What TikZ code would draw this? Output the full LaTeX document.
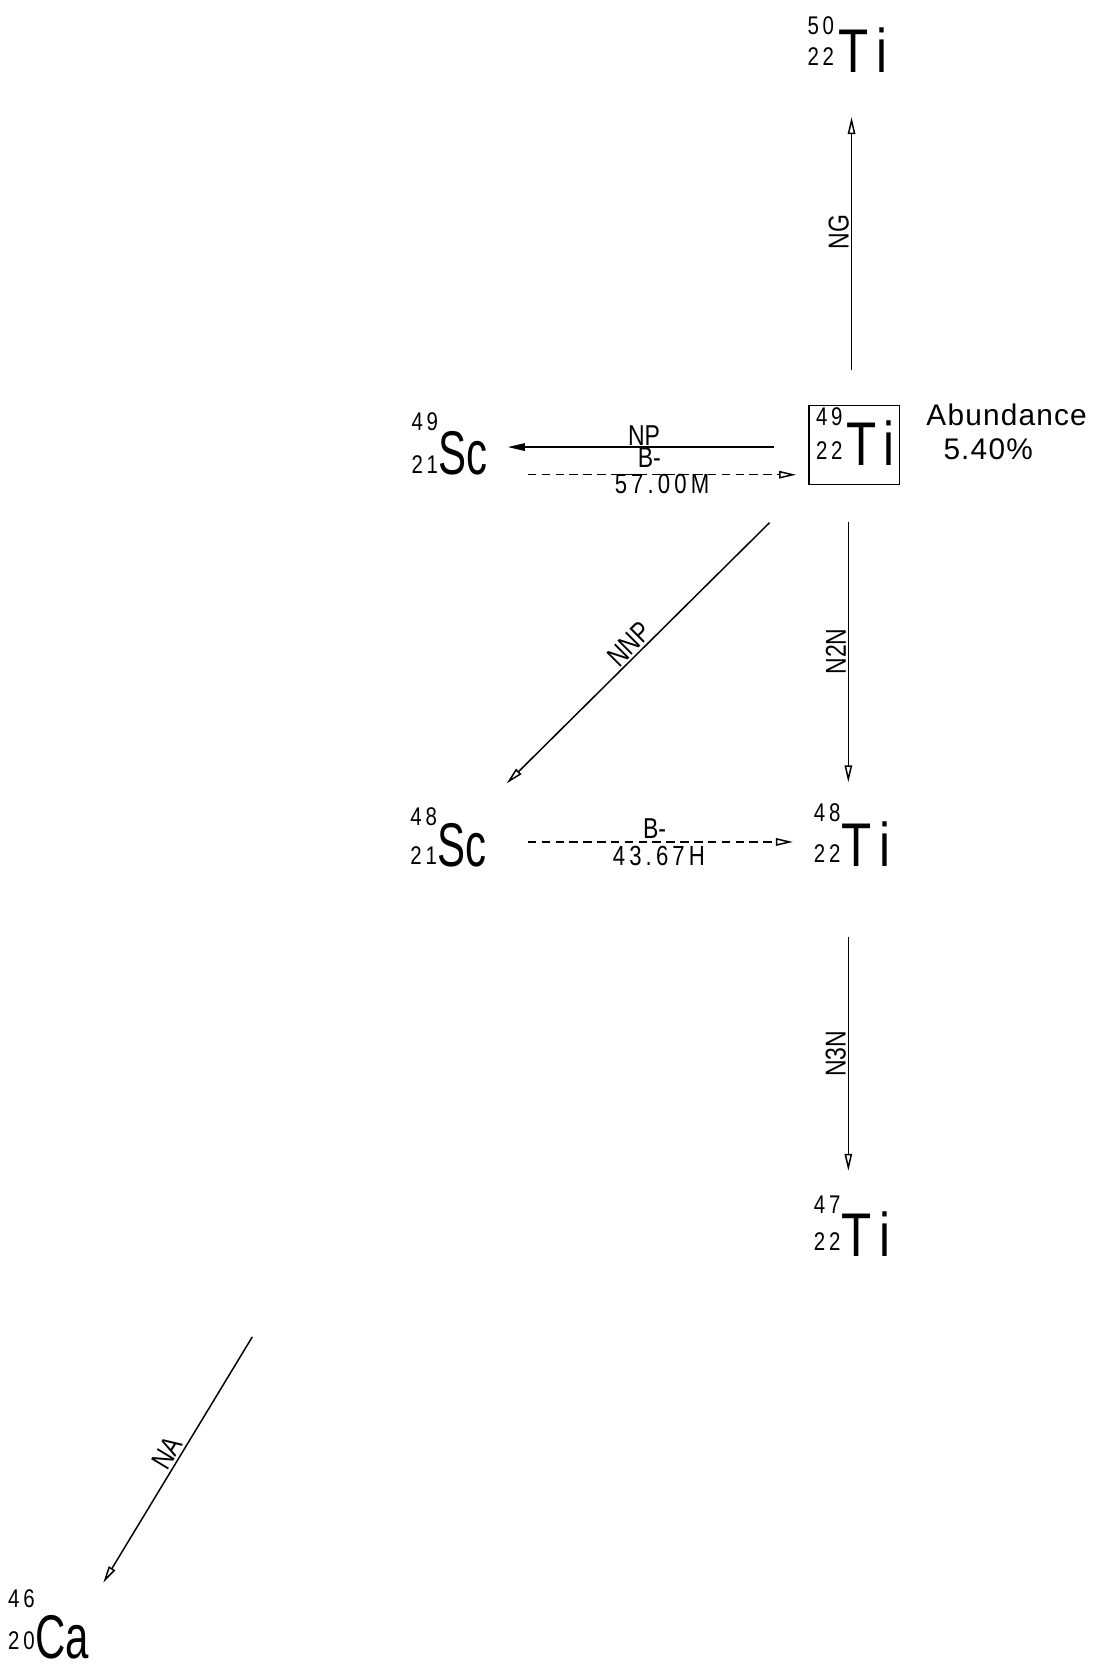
\documentclass[tikz,border=0pt]{standalone}
\usepackage{fontspec}
\usetikzlibrary{arrows.meta}
\newfontfamily\hf{Liberation Sans}[FakeStretch=0.8]
\newfontfamily\hfn{Liberation Sans}[FakeStretch=0.68]
\newfontfamily\hfs{Liberation Sans}[FakeStretch=0.8,LetterSpace=15]
\newfontfamily\hfa{Liberation Sans}[LetterSpace=4]
\begin{document}
\begin{tikzpicture}[x=0.5pt,y=-0.5pt,
  elem/.style={inner sep=0pt,anchor=base west,font=\hf\fontsize{29}{29}\selectfont},
  elemn/.style={inner sep=0pt,anchor=base west,font=\hfn\fontsize{29}{29}\selectfont},
  num/.style={inner sep=0pt,anchor=base east,font=\hfs\fontsize{12}{12}\selectfont},
  lab/.style={inner sep=1pt,font=\hf\fontsize{13.5}{13.5}\selectfont},
  val/.style={inner sep=0pt,anchor=base,font=\hfs\fontsize{13}{13}\selectfont},
  big/.style={inner sep=0pt,anchor=base west,font=\hfa\fontsize{14}{14}\selectfont},
  conn/.style={line width=0.7pt,-{Triangle[open,length=8pt,width=3.5pt]}},
  connf/.style={line width=0.7pt,-{Triangle[length=8pt,width=3.5pt]}},
  dconn/.style={line width=0.7pt,dash pattern=on 4pt off 2.5pt,-{Triangle[open,length=8pt,width=3.5pt]}}]
\useasboundingbox (0,0) rectangle (1032,1568);

% nuclides
\node[elem] (ti50) at (787,68) {T\kern4pt i};
\node[num] (ti50a) at (784,32) {50};
\node[num] (ti50z) at (784,62) {22};

\node[draw,line width=0.7pt,minimum width=42.5pt,minimum height=37pt,inner sep=0pt] (box49) at (802.5,418) {};
\node[elem] (ti49) at (795,437) {T\kern3pt i};
\node[num] (ti49a) at (792,400) {49};
\node[num] (ti49z) at (792,432) {22};
\node[big] (ab) at (870,400) {Abundance};
\node[big] (abv) at (886,432) {5.40\%};

\node[elemn] (sc49) at (412,446) {Sc};
\node[num] (sc49a) at (412,404) {49};
\node[num] (sc49z) at (412,445) {21};

\node[elemn] (sc48) at (411,814) {Sc};
\node[num] (sc48a) at (411,776) {48};
\node[num] (sc48z) at (411,812) {21};

\node[elem] (ti48) at (790,814) {T\kern4pt i};
\node[num] (ti48a) at (790,772) {48};
\node[num] (ti48z) at (790,810) {22};

\node[elem] (ti47) at (790,1180) {T\kern4pt i};
\node[num] (ti47a) at (790,1140) {47};
\node[num] (ti47z) at (790,1175) {22};

\node[elemn] (ca46) at (33,1558) {Ca};
\node[num] (ca46a) at (33,1510) {46};
\node[num] (ca46z) at (33,1550) {20};

% connector ends
\coordinate (ngS) at (800,348);   \coordinate (ngE) at (800,110);
\coordinate (npS) at (727,420);   \coordinate (npE) at (477,420);
\coordinate (bmS) at (496,446);   \coordinate (bmE) at (748,446);
\coordinate (nnpS) at (723,491);  \coordinate (nnpE) at (476,736);
\coordinate (n2nS) at (797,490);  \coordinate (n2nE) at (797,735);
\coordinate (b48S) at (496,791);  \coordinate (b48E) at (745,791);
\coordinate (n3nS) at (797,880);  \coordinate (n3nE) at (797,1100);
\coordinate (naS) at (237,1256);  \coordinate (naE) at (97,1487);

\draw[conn] (ngS) -- (ngE);
\node[lab,rotate=90,anchor=south] (lng) at (800,218) {NG};

\draw[connf] (npS) -- (npE);
\node[lab,anchor=south] (lnp) at (605,421) {NP};
\draw[dconn] (bmS) -- (bmE);
\node[lab,anchor=base,inner sep=0pt] (lbm) at (610,439) {B-};
\node[val] (lbmt) at (622,464) {57.00M};

\draw[conn] (nnpS) -- (nnpE);
\node[lab,rotate=45,anchor=south] (lnnp) at (599.5,613.5) {NNP};

\draw[conn] (n2nS) -- (n2nE);
\node[lab,rotate=90,anchor=south] (ln2n) at (797,612) {N2N};

\draw[dconn] (b48S) -- (b48E);
\node[lab,anchor=south] (lb48) at (615,790) {B-};
\node[val] (lb48t) at (619,813) {43.67H};

\draw[conn] (n3nS) -- (n3nE);
\node[lab,rotate=90,anchor=south] (ln3n) at (797,990) {N3N};

\draw[conn] (naS) -- (naE);
\node[lab,rotate=58.8,anchor=south] (lna) at (167,1371) {NA};
\end{tikzpicture}
\end{document}
